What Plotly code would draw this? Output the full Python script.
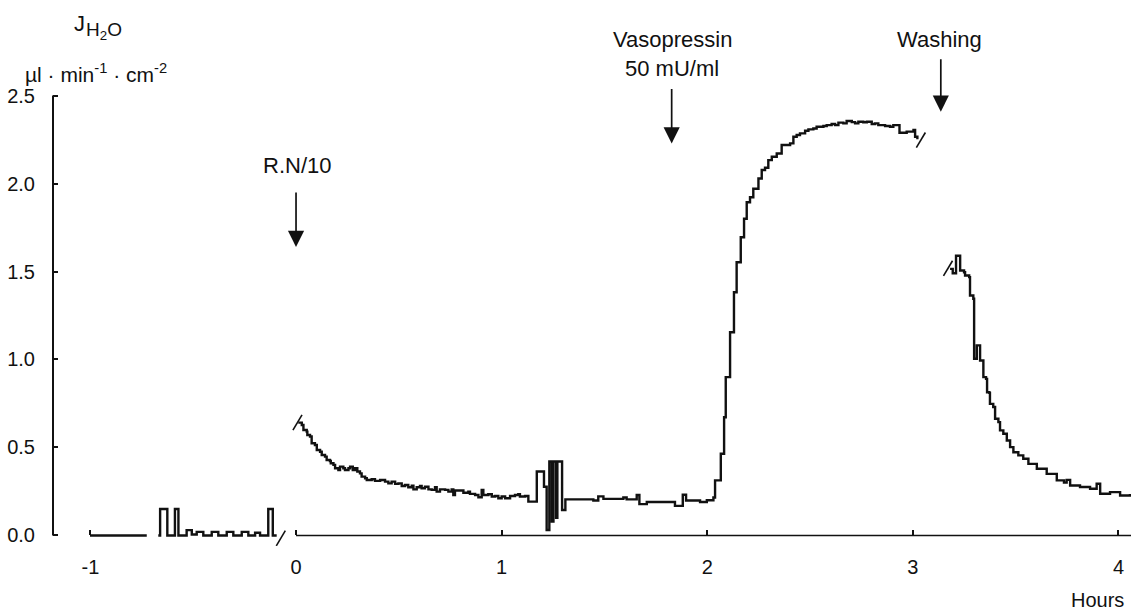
import plotly.graph_objects as go

# ---------------- data (hours, µl·min-1·cm-2) ----------------
ctrl_x = [-1.002, -0.726, None,
          -0.670, -0.661, -0.626, -0.589, -0.572, -0.532, -0.507, -0.483, -0.451,
          -0.410, -0.378, -0.337, -0.305, -0.264, -0.232, -0.199, -0.175, -0.135,
          -0.113, -0.094]
ctrl_y = [0, 0, None,
          0, 0.15, 0, 0.15, 0, 0.03, 0.005, 0.02, 0,
          0.02, 0, 0.02, 0, 0.02, 0, 0.015, 0, 0.15,
          0, 0]

main_x = [0.011, 0.028, 0.036, 0.052, 0.055, 0.068, 0.076, 0.092, 0.101, 0.117,
          0.125, 0.141, 0.149, 0.165, 0.169, 0.182, 0.190, 0.206, 0.214, 0.230,
          0.238, 0.255, 0.263, 0.276, 0.287, 0.298, 0.311, 0.319, 0.336, 0.344,
          0.368, 0.384, 0.409, 0.433, 0.449, 0.465, 0.482, 0.498, 0.514, 0.530,
          0.546, 0.563, 0.571, 0.587, 0.603, 0.611, 0.627, 0.644, 0.660, 0.676,
          0.684, 0.700, 0.725, 0.741, 0.757, 0.765, 0.773, 0.814, 0.838, 0.846,
          0.871, 0.887, 0.903, 0.911, 0.935, 0.952, 0.968, 0.984, 1.000, 1.017,
          1.041, 1.065, 1.081, 1.089, 1.114, 1.130, 1.171, 1.206, 1.219, 1.232,
          1.244, 1.252, 1.265, 1.271, 1.294, 1.310, 1.446, 1.470, 1.495, 1.592,
          1.608, 1.657, 1.670, 1.706, 1.843, 1.881, 1.897, 1.965, 1.998, 2.030,
          2.038, 2.066, 2.082, 2.090, 2.111, 2.130, 2.143, 2.163, 2.179, 2.192,
          2.208, 2.224, 2.249, 2.265, 2.281, 2.297, 2.314, 2.338, 2.362, 2.403,
          2.419, 2.435, 2.451, 2.476, 2.492, 2.516, 2.532, 2.565, 2.581, 2.605,
          2.622, 2.638, 2.662, 2.678, 2.703, 2.719, 2.735, 2.759, 2.776, 2.800,
          2.816, 2.832, 2.865, 2.889, 2.905, 2.935, 2.970, 3.003, 3.011, 3.022]
main_y = [0.641, 0.628, 0.599, 0.590, 0.571, 0.562, 0.524, 0.514, 0.486, 0.476,
          0.457, 0.448, 0.429, 0.423, 0.410, 0.401, 0.382, 0.372, 0.391, 0.382,
          0.372, 0.382, 0.391, 0.372, 0.382, 0.363, 0.353, 0.334, 0.325, 0.315,
          0.319, 0.310, 0.315, 0.306, 0.296, 0.306, 0.293, 0.296, 0.281, 0.287,
          0.274, 0.283, 0.262, 0.274, 0.281, 0.268, 0.277, 0.262, 0.259, 0.274,
          0.249, 0.262, 0.259, 0.249, 0.262, 0.230, 0.255, 0.243, 0.249, 0.236,
          0.230, 0.217, 0.259, 0.230, 0.234, 0.221, 0.224, 0.211, 0.221, 0.211,
          0.224, 0.230, 0.234, 0.221, 0.224, 0.192, 0.363, 0.277, 0.031, 0.420,
          0.079, 0.420, 0.100, 0.420, 0.145, 0.205, 0.199, 0.222, 0.208, 0.216,
          0.205, 0.230, 0.178, 0.190, 0.168, 0.231, 0.199, 0.190, 0.200, 0.216,
          0.313, 0.464, 0.672, 0.900, 1.155, 1.382, 1.553, 1.695, 1.800, 1.894,
          1.922, 1.970, 2.029, 2.077, 2.090, 2.133, 2.152, 2.171, 2.219, 2.228,
          2.266, 2.276, 2.285, 2.300, 2.308, 2.313, 2.323, 2.327, 2.332, 2.338,
          2.332, 2.346, 2.342, 2.355, 2.349, 2.342, 2.351, 2.348, 2.351, 2.338,
          2.342, 2.332, 2.327, 2.323, 2.332, 2.289, 2.295, 2.304, 2.266, 2.251]

wash_x = [3.181, 3.194, 3.210, 3.230, 3.249, 3.254, 3.274, 3.278, 3.294, 3.298,
          3.311, 3.327, 3.343, 3.356, 3.361, 3.372, 3.375, 3.391, 3.400, 3.416,
          3.424, 3.440, 3.457, 3.473, 3.489, 3.513, 3.537, 3.562, 3.603, 3.651,
          3.700, 3.735, 3.748, 3.765, 3.813, 3.862, 3.894, 3.911, 3.959, 4.008,
          4.056]
wash_y = [1.515, 1.490, 1.590, 1.506, 1.496, 1.477, 1.468, 1.364, 1.345, 1.004,
          1.080, 0.994, 0.900, 0.890, 0.814, 0.810, 0.748, 0.730, 0.663, 0.644,
          0.597, 0.578, 0.540, 0.502, 0.473, 0.455, 0.436, 0.407, 0.379, 0.350,
          0.313, 0.300, 0.316, 0.284, 0.275, 0.265, 0.294, 0.237, 0.246, 0.227,
          0.236]

# axis-break marks (centre positions)
break_x = [-0.074, 0.007, 3.039, 3.171]
break_y = [-0.016, 0.642, 2.247, 1.518]

x_ticks = [-1, 0, 1, 2, 3, 4]
x_ticktext = ["-1", "0", "1", "2", "3", "4"]
y_ticks = [0, 0.5, 1.0, 1.5, 2.0, 2.5]
y_ticktext = ["0.0", "0.5", "1.0", "1.5", "2.0", "2.5"]

FONT = "Liberation Sans"
BLACK = "#111111"

fig = go.Figure()

line_style = dict(color=BLACK, width=2.4, shape="hv")
fig.add_trace(go.Scatter(x=ctrl_x, y=ctrl_y, mode="lines", line=line_style,
                         connectgaps=False, hoverinfo="skip"))
fig.add_trace(go.Scatter(x=main_x, y=main_y, mode="lines", line=line_style,
                         hoverinfo="skip"))
fig.add_trace(go.Scatter(x=wash_x, y=wash_y, mode="lines", line=line_style,
                         hoverinfo="skip"))

# break slashes
sx, sy = [], []
for bx, by in zip(break_x, break_y):
    sx += [bx - 0.022, bx + 0.022, None]
    sy += [by - 0.043, by + 0.043, None]
fig.add_trace(go.Scatter(x=sx, y=sy, mode="lines",
                         line=dict(color=BLACK, width=1.6), hoverinfo="skip"))

Y0, Y1 = -0.06, 2.56
X0, X1 = -1.182, 4.061
PLOT_TOP, PLOT_BOTTOM = 85, 546  # pixel rows of the plot area


def py(pix):
    """paper y for a pixel row"""
    return (PLOT_BOTTOM - pix) / (PLOT_BOTTOM - PLOT_TOP)


def px(pix):
    """paper x for a pixel column"""
    return (pix - 53) / (1131 - 53)


# axis lines
fig.add_shape(type="line", xref="paper", yref="y", x0=0, x1=0, y0=0, y1=2.5,
              line=dict(color=BLACK, width=2))
fig.add_shape(type="line", xref="x", yref="y", x0=0, x1=X1, y0=0, y1=0,
              line=dict(color=BLACK, width=1.6))

ann_font = dict(family=FONT, size=22, color=BLACK)
C = dict(xanchor="center", yanchor="middle", showarrow=False)
annotations = [
    dict(text="J", xref="paper", yref="paper", x=px(79), y=py(24),
         font=dict(family=FONT, size=22, color=BLACK), **C),
    dict(text="H<sub>2</sub>O", xref="paper", yref="paper", x=px(104), y=py(31),
         font=dict(family=FONT, size=19, color=BLACK), **C),
    dict(text="µl · min<sup>-1</sup> · cm<sup>-2</sup>", xref="paper", yref="paper",
         x=px(96), y=py(73), font=dict(family=FONT, size=21, color=BLACK), **C),
    dict(text="R.N/10", xref="x", yref="y", x=0.005, y=2.105, font=ann_font, **C),
    dict(text="Vasopressin", xref="x", yref="paper", x=1.829, y=py(40),
         font=ann_font, **C),
    dict(text="50 mU/ml", xref="x", yref="paper", x=1.829, y=py(69),
         font=ann_font, **C),
    dict(text="Washing", xref="x", yref="paper", x=3.132, y=py(40),
         font=ann_font, **C),
    dict(text="Hours", xref="x", yref="paper", x=3.9, y=py(600),
         font=dict(family=FONT, size=20, color=BLACK), **C),
]
arrow = dict(text="", xref="x", yref="y", ax=0, showarrow=True, arrowhead=2,
             arrowsize=1.9, arrowwidth=1.7, arrowcolor=BLACK)
annotations += [
    dict(x=0.0, y=1.64, ay=-56, **arrow),
    dict(x=1.827, y=2.228, ay=-56, **arrow),
    dict(x=3.136, y=2.408, ay=-54, **arrow),
]

fig.update_layout(
    width=1131, height=614,
    margin=dict(l=53, r=0, t=PLOT_TOP, b=614 - PLOT_BOTTOM, pad=0),
    paper_bgcolor="white", plot_bgcolor="white",
    showlegend=False,
    font=dict(family=FONT, size=20, color=BLACK),
    annotations=annotations,
    xaxis=dict(range=[X0, X1], showgrid=False, zeroline=False, showline=False,
               anchor="free", position=(0 - Y0) / (Y1 - Y0),
               tickmode="array", tickvals=x_ticks, ticktext=x_ticktext,
               ticks="inside", ticklen=5, tickwidth=1.5, tickcolor=BLACK,
               ticklabelstandoff=18, tickfont=dict(family=FONT, size=20)),
    yaxis=dict(range=[Y0, Y1], showgrid=False, zeroline=False, showline=False,
               tickmode="array", tickvals=y_ticks, ticktext=y_ticktext,
               ticks="inside", ticklen=5, tickwidth=1.5, tickcolor=BLACK,
               ticklabelstandoff=17, tickfont=dict(family=FONT, size=20)),
)

fig.write_html("out.html")
